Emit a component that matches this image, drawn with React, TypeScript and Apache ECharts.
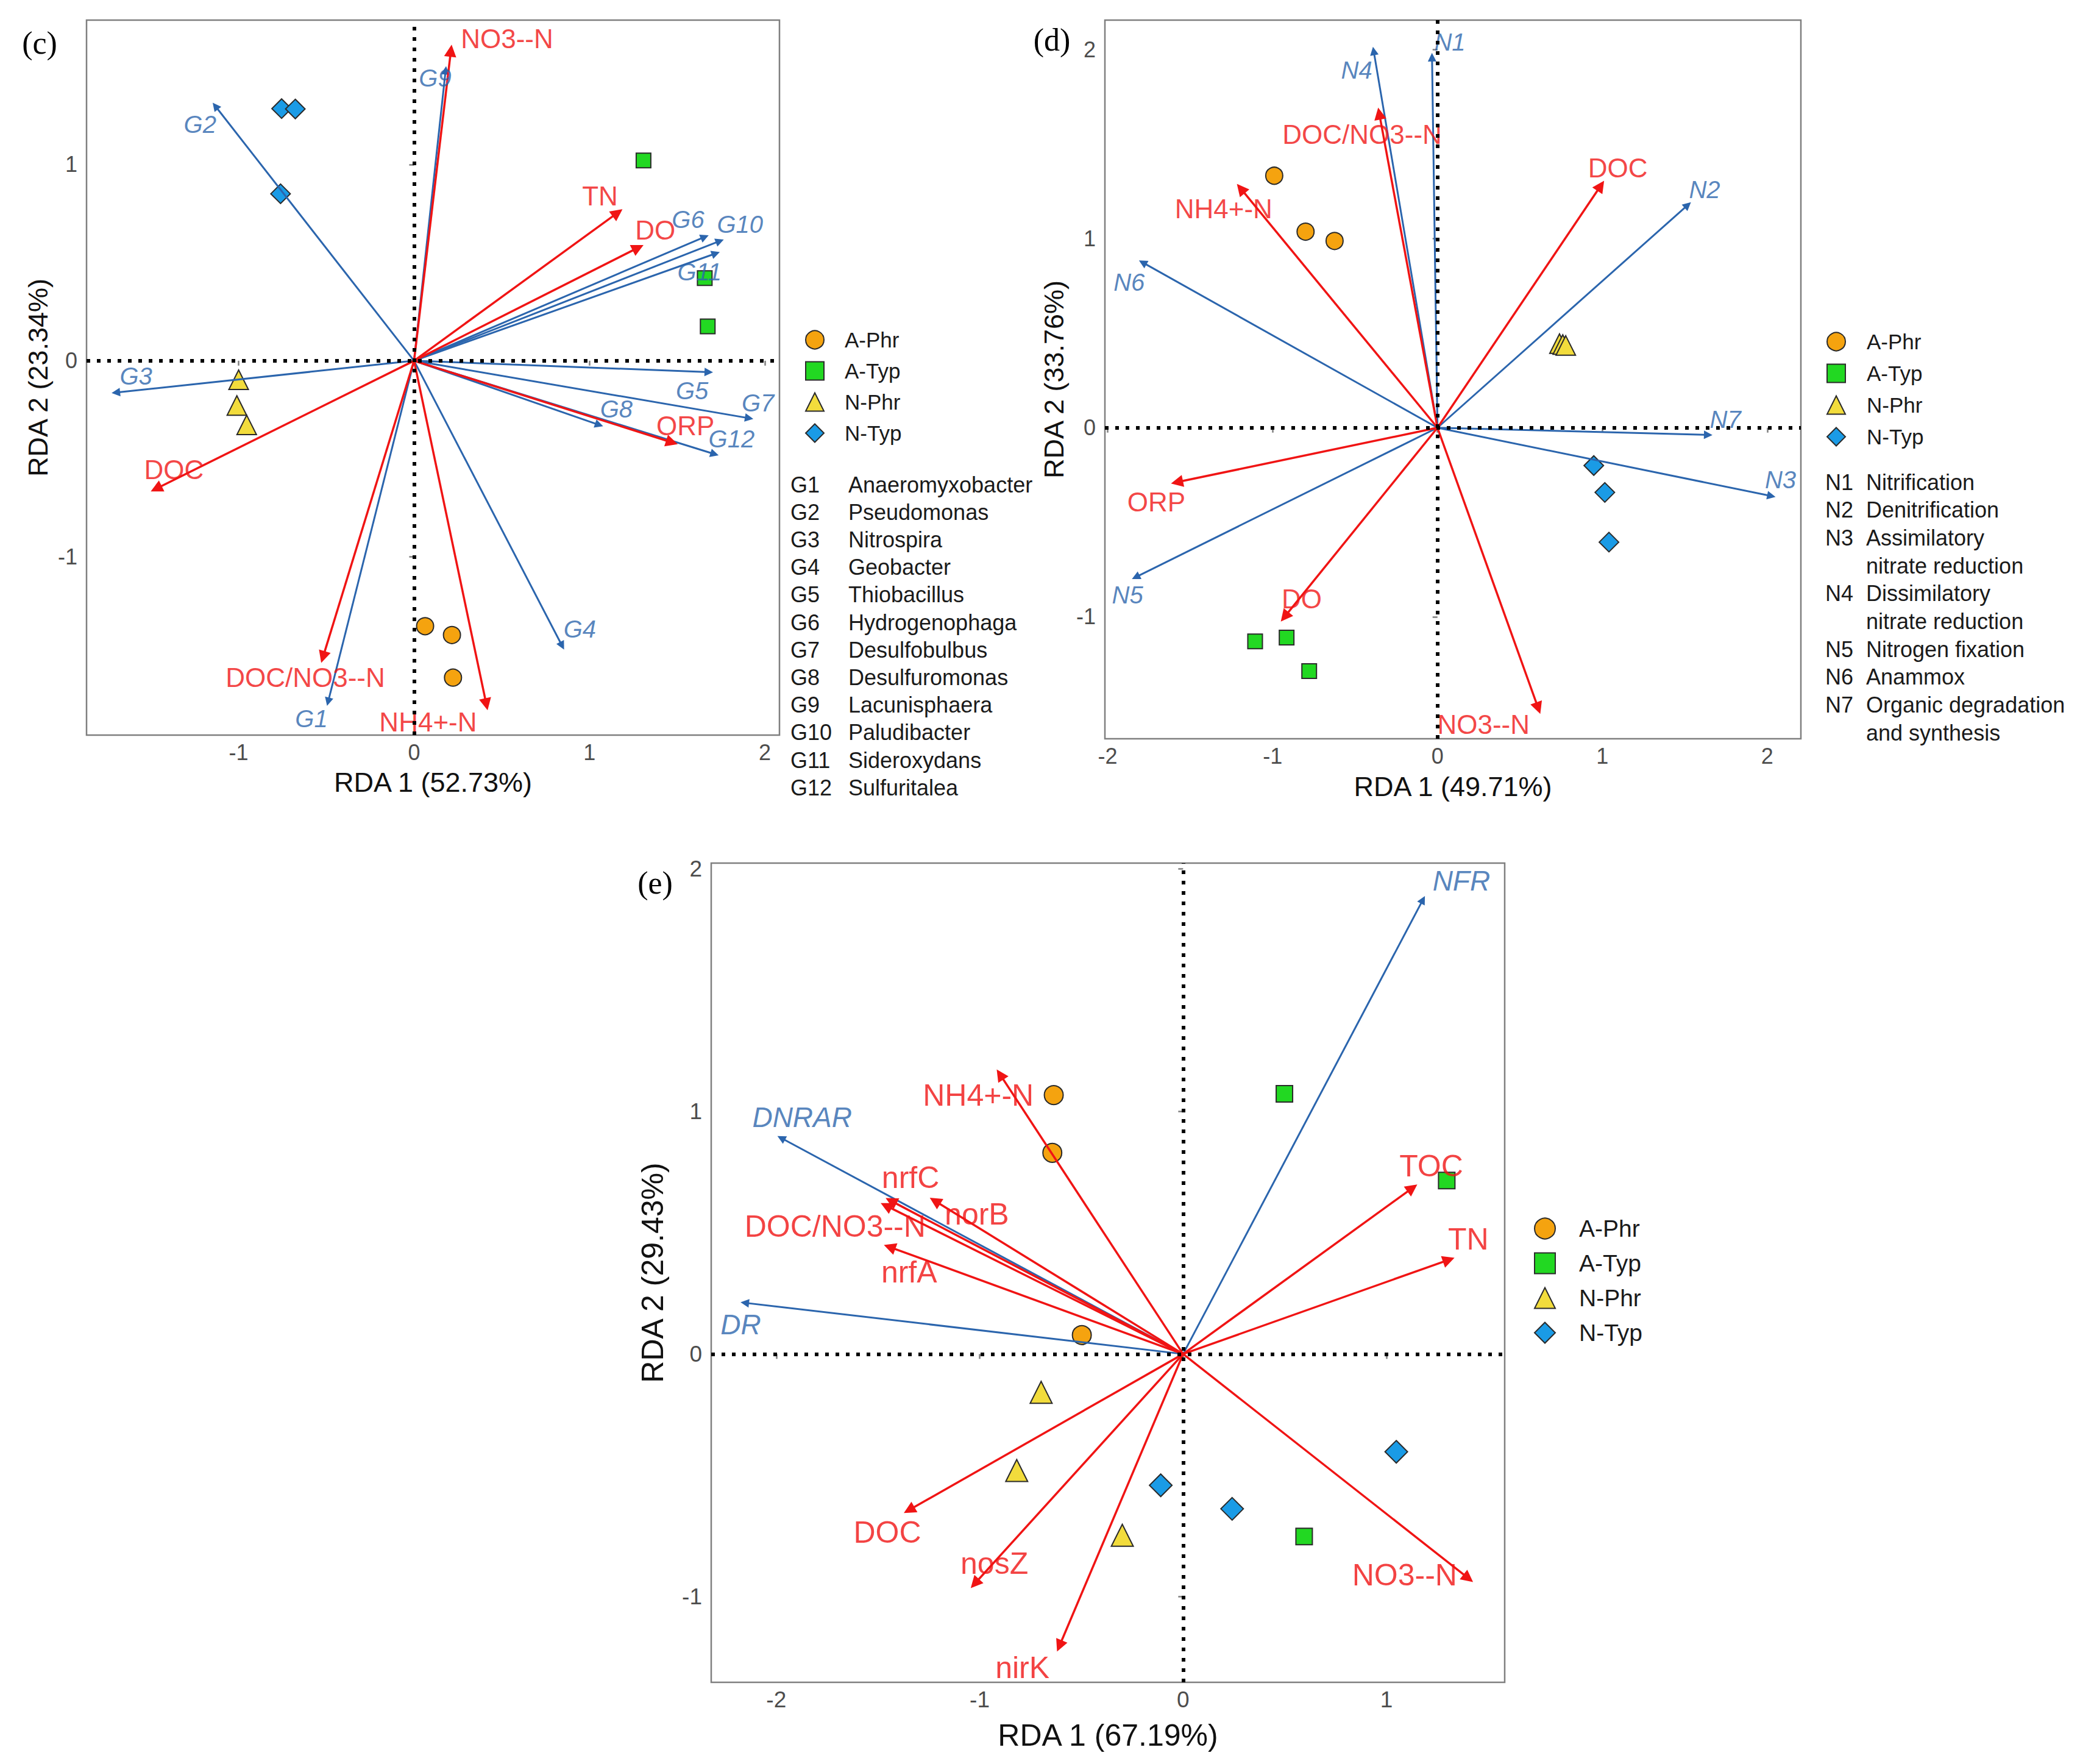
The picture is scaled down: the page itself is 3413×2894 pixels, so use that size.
import React, { useEffect, useRef } from 'react';
import * as echarts from 'echarts';

// ---------- shared ----------
const groups = ['A-Phr', 'A-Typ', 'N-Phr', 'N-Typ'];
const groupSymbols = ['circle', 'rect', 'triangle', 'diamond'];
const groupColors = ['#F5A30F', '#22D822', '#F2DC3C', '#1A9BE6'];
const RED = '#F01414';
const BLUE = '#2B65AD';
const FONT = 'Liberation Sans';

// ---------- panel (c) ----------
const cXTitle = 'RDA 1 (52.73%)';
const cYTitle = 'RDA 2 (23.34%)';
const cXTicks = [-1, 0, 1, 2];
const cYTicks = [-1, 0, 1];
const cEnvNames = ['NO3--N', 'TN', 'DO', 'ORP', 'DOC', 'DOC/NO3--N', 'NH4+-N'];
const cEnvX = [0.21, 1.16, 1.277, 1.47, -1.47, -0.519, 0.412];
const cEnvY = [1.58, 0.754, 0.576, -0.416, -0.652, -1.51, -1.751];
const cEnvLabX = [0.53, 1.06, 1.375, 1.547, -1.369, -0.62, 0.08];
const cEnvLabY = [1.64, 0.84, 0.665, -0.33, -0.555, -1.615, -1.84];
const cSpNames = ['G1', 'G2', 'G3', 'G4', 'G5', 'G6', 'G7', 'G8', 'G9', 'G10', 'G11', 'G12'];
const cSpX = [-0.49, -1.133, -1.7, 0.844, 1.68, 1.657, 1.91, 1.055, 0.18, 1.743, 1.72, 1.713];
const cSpY = [-1.738, 1.298, -0.162, -1.453, -0.058, 0.631, -0.293, -0.327, 1.48, 0.61, 0.547, -0.476];
const cSpLabX = [-0.585, -1.22, -1.585, 0.945, 1.585, 1.562, 1.96, 1.153, 0.12, 1.858, 1.627, 1.81];
const cSpLabY = [-1.825, 1.204, -0.079, -1.367, -0.154, 0.72, -0.215, -0.246, 1.44, 0.696, 0.453, -0.398];
const cAPhr = [[0.063, -1.353], [0.216, -1.398], [0.222, -1.615]];
const cATyp = [[1.308, 1.021], [1.657, 0.421], [1.674, 0.175]];
const cNPhr = [[-1.0, -0.097], [-1.01, -0.228], [-0.954, -0.327]];
const cNTyp = [[-0.755, 1.285], [-0.677, 1.283], [-0.761, 0.851]];
const cCodes = ['G1', 'G2', 'G3', 'G4', 'G5', 'G6', 'G7', 'G8', 'G9', 'G10', 'G11', 'G12'];
const cCodeNames = ['Anaeromyxobacter', 'Pseudomonas', 'Nitrospira', 'Geobacter', 'Thiobacillus', 'Hydrogenophaga', 'Desulfobulbus', 'Desulfuromonas', 'Lacunisphaera', 'Paludibacter', 'Sideroxydans', 'Sulfuritalea'];

// ---------- panel (d) ----------
const dXTitle = 'RDA 1 (49.71%)';
const dYTitle = 'RDA 2 (33.76%)';
const dXTicks = [-2, -1, 0, 1, 2];
const dYTicks = [-1, 0, 1, 2];
const dEnvNames = ['DOC/NO3--N', 'DOC', 'NH4+-N', 'ORP', 'DO', 'NO3--N'];
const dEnvX = [-0.353, 0.99, -1.193, -1.58, -0.927, 0.611];
const dEnvY = [1.662, 1.28, 1.265, -0.288, -1.0, -1.483];
const dEnvLabX = [-0.457, 1.094, -1.297, -1.705, -0.823, 0.279];
const dEnvLabY = [1.553, 1.374, 1.157, -0.391, -0.904, -1.57];
const dSpNames = ['N1', 'N2', 'N3', 'N4', 'N5', 'N6', 'N7'];
const dSpX = [-0.033, 1.518, 2.025, -0.387, -1.83, -1.788, 1.642];
const dSpY = [1.96, 1.178, -0.361, 1.993, -0.79, 0.874, -0.038];
const dSpLabX = [0.075, 1.62, 2.08, -0.49, -1.88, -1.87, 1.746];
const dSpLabY = [2.04, 1.26, -0.274, 1.893, -0.885, 0.771, 0.043];
const dAPhr = [[-0.99, 1.333], [-0.8, 1.037], [-0.624, 0.988]];
const dATyp = [[-1.106, -1.13], [-0.915, -1.11], [-0.778, -1.287]];
const dNPhr = [[0.74, 0.445], [0.76, 0.44], [0.778, 0.435]];
const dNTyp = [[0.948, -0.2], [1.015, -0.342], [1.04, -0.605]];
const dCodes = ['N1', 'N2', 'N3', 'N4', 'N5', 'N6', 'N7'];
const dCodeNames = ['Nitrification', 'Denitrification', 'Assimilatory\nnitrate reduction', 'Dissimilatory\nnitrate reduction', 'Nitrogen fixation', 'Anammox', 'Organic degradation\nand synthesis'];

// ---------- panel (e) ----------
const eXTitle = 'RDA 1 (67.19%)';
const eYTitle = 'RDA 2 (29.43%)';
const eXTicks = [-2, -1, 0, 1];
const eYTicks = [-1, 0, 1, 2];
const eEnvNames = ['NH4+-N', 'nrfC', 'DOC/NO3--N', 'norB', 'nrfA', 'TOC', 'TN', 'NO3--N', 'DOC', 'nosZ', 'nirK'];
const eEnvX = [-0.9, -1.436, -1.46, -1.22, -1.443, 1.127, 1.306, 1.402, -1.347, -1.024, -0.608];
const eEnvY = [1.152, 0.631, 0.611, 0.631, 0.441, 0.684, 0.388, -0.924, -0.643, -0.946, -1.203];
const eEnvLabX = [-1.007, -1.34, -1.711, -1.014, -1.347, 1.22, 1.402, 1.089, -1.454, -0.928, -0.79];
const eEnvLabY = [1.067, 0.728, 0.526, 0.575, 0.337, 0.774, 0.473, -0.91, -0.735, -0.863, -1.293];
const eSpNames = ['NFR', 'DNRAR', 'DR'];
const eSpX = [1.179, -1.976, -2.155];
const eSpY = [1.872, 0.89, 0.211];
const eSpLabX = [1.368, -1.873, -2.175];
const eSpLabY = [1.95, 0.975, 0.121];
const eAPhr = [[-0.636, 1.067], [-0.643, 0.829], [-0.498, 0.078]];
const eATyp = [[0.498, 1.072], [1.296, 0.715], [0.595, -0.752]];
const eNPhr = [[-0.698, -0.158], [-0.818, -0.48], [-0.299, -0.747]];
const eNTyp = [[1.048, -0.403], [-0.11, -0.541], [0.241, -0.638]];

// ---------- layout (pixels) ----------
const panels = [
  {
    letter: '(c)', letterX: 65, letterY: 70,
    grid: { left: 142, top: 33, width: 1137, height: 1173 },
    xr: [-1.867, 2.083], yr: [-1.908, 1.736],
    xTicks: cXTicks, yTicks: cYTicks, xTitle: cXTitle, yTitle: cYTitle,
    xGap: 55, yGap: 57, titleSize: 45, tickSize: 36,
    env: [cEnvNames, cEnvX, cEnvY, cEnvLabX, cEnvLabY],
    sp: [cSpNames, cSpX, cSpY, cSpLabX, cSpLabY],
    samples: [cAPhr, cATyp, cNPhr, cNTyp],
    symSizes: [28, 24, 32, 32],
    redSize: 44, blueSize: 40,
    legend: { iconX: 1336, textX: 1385, top: 540, h: 30, gap: 16, font: 35 },
  },
  {
    letter: '(d)', letterX: 1726, letterY: 65,
    grid: { left: 1813, top: 33, width: 1142, height: 1179 },
    xr: [-2.017, 2.204], yr: [-1.645, 2.156],
    xTicks: dXTicks, yTicks: dYTicks, xTitle: dXTitle, yTitle: dYTitle,
    xGap: 56, yGap: 61, titleSize: 45, tickSize: 36,
    env: [dEnvNames, dEnvX, dEnvY, dEnvLabX, dEnvLabY],
    sp: [dSpNames, dSpX, dSpY, dSpLabX, dSpLabY],
    samples: [dAPhr, dATyp, dNPhr, dNTyp],
    symSizes: [28, 24, 32, 32],
    redSize: 44, blueSize: 40,
    legend: { iconX: 3012, textX: 3062, top: 543, h: 30, gap: 17, font: 35 },
  },
  {
    letter: '(e)', letterX: 1075, letterY: 1448,
    grid: { left: 1167, top: 1416, width: 1302, height: 1344 },
    xr: [-2.32, 1.581], yr: [-1.353, 2.023],
    xTicks: eXTicks, yTicks: eYTicks, xTitle: eXTitle, yTitle: eYTitle,
    xGap: 62, yGap: 71, titleSize: 50, tickSize: 37,
    env: [eEnvNames, eEnvX, eEnvY, eEnvLabX, eEnvLabY],
    sp: [eSpNames, eSpX, eSpY, eSpLabX, eSpLabY],
    samples: [eAPhr, eATyp, eNPhr, eNTyp],
    symSizes: [31, 27, 36, 37],
    redSize: 50, blueSize: 46,
    legend: { iconX: 2534, textX: 2590, top: 1996, h: 34, gap: 18, font: 39 },
  },
];

function buildOption() {
  const grids: any[] = [];
  const xAxes: any[] = [];
  const yAxes: any[] = [];
  const series: any[] = [];
  const legends: any[] = [];
  const graphics: any[] = [];

  panels.forEach((p, idx) => {
    grids.push({
      ...p.grid,
      show: true,
      borderColor: '#7F7F7F',
      borderWidth: 2.5,
      backgroundColor: 'transparent',
      containLabel: false,
    });
    const axisCommon = (ticks: number[], size: number, margin: number) => ({
      type: 'value',
      gridIndex: idx,
      axisLine: { show: false },
      splitLine: { show: false },
      axisTick: { show: true, length: 8, lineStyle: { color: '#7F7F7F', width: 2.5 }, customValues: ticks },
      axisLabel: { show: true, customValues: ticks, color: '#4D4D4D', fontSize: size, fontFamily: FONT, margin },
    });
    xAxes.push({
      ...axisCommon(p.xTicks, p.tickSize, 10),
      min: p.xr[0], max: p.xr[1],
      name: p.xTitle, nameLocation: 'middle', nameGap: p.xGap,
      nameTextStyle: { fontSize: p.titleSize, color: '#111', fontFamily: FONT },
    });
    yAxes.push({
      ...axisCommon(p.yTicks, p.tickSize, 15),
      min: p.yr[0], max: p.yr[1],
      name: p.yTitle, nameLocation: 'middle', nameGap: p.yGap, nameRotate: 90,
      nameTextStyle: { fontSize: p.titleSize, color: '#111', fontFamily: FONT },
    });

    // sample points
    p.samples.forEach((pts, g) => {
      series.push({
        type: 'scatter', name: groups[g], xAxisIndex: idx, yAxisIndex: idx,
        symbol: groupSymbols[g], symbolSize: p.symSizes[g],
        itemStyle: { color: groupColors[g], borderColor: '#2A2A2A', borderWidth: 2, opacity: 1 },
        data: pts, z: 3, silent: true,
      });
    });

    // arrows
    const arrowSeries = (set: any[], color: string, width: number, head: number) => ({
      type: 'lines', coordinateSystem: 'cartesian2d', xAxisIndex: idx, yAxisIndex: idx,
      symbol: ['none', 'triangle'], symbolSize: head,
      lineStyle: { color, width, opacity: 1, curveness: 0 },
      data: set[0].map((n: string, i: number) => ({ name: n, coords: [[0, 0], [set[1][i], set[2][i]]] })),
      z: 4, silent: true,
    });
    series.push(arrowSeries(p.sp, BLUE, 3, 14));
    series.push(arrowSeries(p.env, RED, 3.5, 20));

    // arrow labels
    const labelSeries = (set: any[], color: string, size: number, italic: boolean) => ({
      type: 'scatter', xAxisIndex: idx, yAxisIndex: idx,
      symbol: 'circle', symbolSize: 1,
      itemStyle: { color: 'rgba(0,0,0,0)' },
      label: {
        show: true, position: 'inside', formatter: '{b}', color, fontSize: size,
        fontStyle: italic ? 'italic' : 'normal', fontFamily: FONT,
      },
      data: set[0].map((n: string, i: number) => ({ name: n, value: [set[3][i], set[4][i]] })),
      z: 5, silent: true,
    });
    series.push(labelSeries(p.sp, BLUE, p.blueSize, true));
    series.push(labelSeries(p.env, RED, p.redSize, false));

    // dotted zero lines
    series.push({
      type: 'lines', coordinateSystem: 'cartesian2d', xAxisIndex: idx, yAxisIndex: idx,
      symbol: ['none', 'none'],
      lineStyle: { color: '#000', width: 6, type: [6, 11], opacity: 1 },
      data: [
        { coords: [[p.xr[0], 0], [p.xr[1], 0]] },
        { coords: [[0, p.yr[0]], [0, p.yr[1]]] },
      ],
      z: 6, silent: true,
    });

    const lg = p.legend;
    const iconLeft = lg.iconX - lg.h / 2;
    legends.push({
      show: true, orient: 'vertical', left: iconLeft, top: lg.top, padding: 0,
      itemWidth: lg.h, itemHeight: lg.h, itemGap: lg.gap, symbolKeepAspect: true,
      selectedMode: false, data: groups,
      textStyle: {
        fontSize: lg.font, lineHeight: lg.font, color: '#1A1A1A', fontFamily: FONT,
        padding: [0, 0, 0, Math.max(0, lg.textX - (iconLeft + lg.h + 5))],
      },
    });

    graphics.push({
      type: 'text', x: p.letterX, y: p.letterY,
      style: {
        text: p.letter, fontSize: 52, fontFamily: 'Liberation Serif', fill: '#000',
        align: 'center', verticalAlign: 'middle', textAlign: 'center', textVerticalAlign: 'middle',
      },
    });
  });

  // code lists
  const codeList = (codes: string[], names: string[], codeX: number, nameX: number, y0: number, step: number) => {
    let row = 0;
    codes.forEach((c, i) => {
      const lines = names[i].split('\n');
      graphics.push({
        type: 'text', x: codeX, y: y0 + row * step,
        style: { text: c, fontSize: 36, fontFamily: FONT, fill: '#1A1A1A', align: 'left', verticalAlign: 'middle', textAlign: 'left', textVerticalAlign: 'middle' },
      });
      lines.forEach((ln) => {
        graphics.push({
          type: 'text', x: nameX, y: y0 + row * step,
          style: { text: ln, fontSize: 36, fontFamily: FONT, fill: '#1A1A1A', align: 'left', verticalAlign: 'middle', textAlign: 'left', textVerticalAlign: 'middle' },
        });
        row += 1;
      });
    });
  };
  codeList(cCodes, cCodeNames, 1297, 1392, 795, 45.2);
  codeList(dCodes, dCodeNames, 2995, 3062, 791, 45.7);

  return {
    animation: false,
    backgroundColor: '#FFFFFF',
    textStyle: { fontFamily: FONT },
    grid: grids,
    xAxis: xAxes,
    yAxis: yAxes,
    legend: legends,
    series,
    graphic: graphics,
  };
}

export default function App() {
  const ref = useRef<HTMLDivElement>(null);
  useEffect(() => {
    if (!ref.current) return;
    const chart = echarts.init(ref.current, undefined, { renderer: 'svg' });
    chart.setOption(buildOption() as any);
    return () => chart.dispose();
  }, []);
  return <div ref={ref} style={{ position: 'absolute', left: 0, top: 0, width: 3413, height: 2894, background: '#fff' }} />;
}
